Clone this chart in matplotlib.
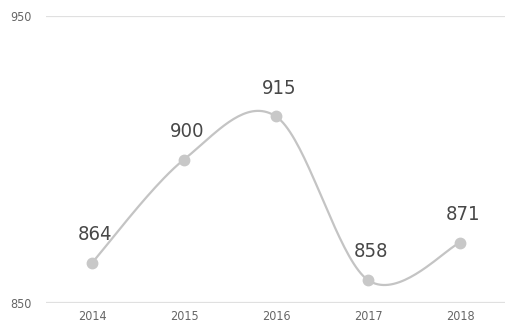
import numpy as np
import matplotlib
matplotlib.use("Agg")
import matplotlib.pyplot as plt
from matplotlib import font_manager

# ----------------------------
# Data
# ----------------------------
YEARS  = ["2014", "2015", "2016", "2017", "2018"]
VALUES = [864, 900, 915, 858, 871]
Y_TICKS = [850, 950]

LINE_COLOR = "#c4c4c4"
GRID_COLOR = "#e0e0e0"
TEXT_COLOR = "#484848"
TICK_COLOR = "#666666"

fonts = {(f.name, f.stretch) for f in font_manager.fontManager.ttflist}
HAS_COND = any(n == "DejaVu Sans" and s == "condensed" for n, s in fonts)
plt.rcParams["font.family"] = ["DejaVu Sans"]
if HAS_COND:
    plt.rcParams["font.stretch"] = "condensed"


def catmull_rom(x, y, n=40, tension=0.5):
    # cardinal spline through the points, duplicated end points
    x = np.asarray(x, float)
    y = np.asarray(y, float)
    px = np.concatenate([[x[0]], x, [x[-1]]])
    py = np.concatenate([[y[0]], y, [y[-1]]])
    xs, ys = [], []
    for i in range(1, len(px) - 2):
        t = np.linspace(0, 1, n)
        m1x = tension * (px[i + 1] - px[i - 1]); m1y = tension * (py[i + 1] - py[i - 1])
        m2x = tension * (px[i + 2] - px[i]);     m2y = tension * (py[i + 2] - py[i])
        h00 = 2 * t**3 - 3 * t**2 + 1
        h10 = t**3 - 2 * t**2 + t
        h01 = -2 * t**3 + 3 * t**2
        h11 = t**3 - t**2
        xs.append(h00 * px[i] + h10 * m1x + h01 * px[i + 1] + h11 * m2x)
        ys.append(h00 * py[i] + h10 * m1y + h01 * py[i + 1] + h11 * m2y)
    return np.concatenate(xs), np.concatenate(ys)


fig = plt.figure(figsize=(5.06, 3.23), dpi=100)
ax = fig.add_axes([46 / 506, 20 / 323, 460 / 506, 287 / 323])

xpos = np.arange(len(YEARS))
sx, sy = catmull_rom(xpos, VALUES)
ax.plot(sx, sy, color=LINE_COLOR, lw=1.6, solid_capstyle="round", zorder=2)
ax.plot(xpos, VALUES, "o", ms=7.5, color="#c8c8c8", zorder=3)

for xv, v in zip(xpos, VALUES):
    ax.annotate(f"{v}", (xv, v), xytext=(2, 16.5), textcoords="offset points",
                ha="center", va="baseline", fontsize=14.5, color=TEXT_COLOR)

for t in Y_TICKS:
    ax.axhline(t, color=GRID_COLOR, lw=1.6, zorder=1)

ax.set_xlim(-0.5, len(YEARS) - 0.5)
ax.set_ylim(Y_TICKS[0], Y_TICKS[-1])
ax.set_xticks(xpos)
ax.set_xticklabels(YEARS)
ax.set_yticks(Y_TICKS)
ax.set_yticklabels([str(t) for t in Y_TICKS])
ax.tick_params(length=0, labelsize=9, colors=TICK_COLOR)
ax.tick_params(axis="y", pad=10)
ax.tick_params(axis="x", pad=5)
for s in ax.spines.values():
    s.set_visible(False)

fig.savefig("out.png", dpi=100)
